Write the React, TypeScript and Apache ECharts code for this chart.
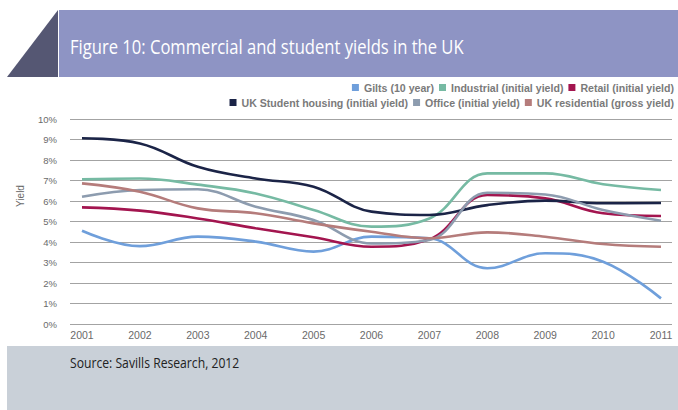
import React, { useEffect, useRef } from "react";
import * as echarts from "echarts";

const years = [2001, 2002, 2003, 2004, 2005, 2006, 2007, 2008, 2009, 2010, 2011];
const gilts = [4.55, 3.8, 4.26, 4.02, 3.53, 4.26, 4.18, 2.72, 3.45, 3.04, 1.25];
const industrial = [7.06, 7.1, 6.8, 6.37, 5.56, 4.75, 5.15, 7.35, 7.35, 6.82, 6.54];
const retail = [5.69, 5.53, 5.15, 4.67, 4.23, 3.77, 4.13, 6.29, 6.13, 5.4, 5.27];
const student = [9.06, 8.81, 7.67, 7.1, 6.7, 5.48, 5.32, 5.8, 6.02, 5.89, 5.9];
const office = [6.21, 6.54, 6.57, 5.72, 5.07, 3.93, 4.1, 6.4, 6.32, 5.56, 5.04];
const residential = [6.86, 6.45, 5.64, 5.4, 4.91, 4.5, 4.18, 4.47, 4.26, 3.9, 3.77];
const yTicks = [0, 1, 2, 3, 4, 5, 6, 7, 8, 9, 10];

const seriesDefs = [
  { name: "Gilts (10 year)", data: gilts, color: "#6f9fdb" },
  { name: "Industrial (initial yield)", data: industrial, color: "#76baa3" },
  { name: "Retail (initial yield)", data: retail, color: "#a3154f" },
  { name: "UK Student housing (initial yield)", data: student, color: "#1b2447" },
  { name: "Office (initial yield)", data: office, color: "#8d9caf" },
  { name: "UK residential (gross yield)", data: residential, color: "#b57c7b" },
];

export default function App() {
  const ref = useRef<HTMLDivElement>(null);
  useEffect(() => {
    if (!ref.current) return;
    const chart = echarts.init(ref.current, undefined, { renderer: "svg" });
    const legendText = {
      fontFamily: "Liberation Sans, Arial, sans-serif",
      fontWeight: "bold" as const,
      fontSize: 10.6,
      color: "#7a7a7a",
    };
    const legendBase = {
      right: 4,
      itemWidth: 7,
      itemHeight: 7,
      itemGap: 5,
      icon: "rect",
      textStyle: legendText,
      padding: 0,
    };
    chart.setOption({
      animation: false,
      backgroundColor: "#ffffff",
      grid: { left: 70, right: 6, top: 119, bottom: 86 },
      legend: [
        { ...legendBase, data: seriesDefs.slice(0, 3).map((s) => s.name), top: 82 },
        { ...legendBase, data: seriesDefs.slice(3).map((s) => s.name), top: 97 },
      ],
      xAxis: {
        type: "value",
        min: 2001 - 12 / 57.9,
        max: 2011 + 11 / 57.9,
        axisLine: { show: false },
        axisTick: { show: false },
        splitLine: { show: false },
        axisLabel: {
          customValues: years,
          formatter: (v: number) => String(Math.round(v)),
          fontFamily: "Liberation Sans Narrow, Liberation Sans, Arial, sans-serif",
          fontSize: 10.5,
          color: "#6a6a6a",
          margin: 5,
        },
      },
      yAxis: {
        type: "value",
        min: yTicks[0],
        max: yTicks[yTicks.length - 1],
        interval: 1,
        axisLine: { show: false },
        axisTick: { show: false },
        splitLine: { lineStyle: { color: "#a3a3a3", width: 1.2 } },
        axisLabel: {
          formatter: "{value}%",
          fontFamily: "Liberation Sans, Arial, sans-serif",
          fontSize: 9.5,
          color: "#6a6a6a",
          margin: 13,
        },
      },
      series: seriesDefs.map((s) => ({
        name: s.name,
        type: "line",
        smooth: 0.4,
        showSymbol: false,
        symbol: "none",
        color: s.color,
        lineStyle: { width: 2.6, color: s.color },
        data: years.map((y, i) => [y, s.data[i]]),
      })),
      graphic: [
        {
          type: "polygon",
          shape: { points: [[7, 77], [58, 10], [58, 77]] },
          style: { fill: "#555773" },
        },
        {
          type: "rect",
          shape: { x: 59, y: 10, width: 619, height: 67 },
          style: { fill: "#8e94c4" },
        },
        {
          type: "text",
          x: 70,
          y: 46,
          scaleX: 0.83,
          style: {
            text: "Figure 10: Commercial and student yields in the UK",
            fill: "#ffffff",
            font: "20px 'Open Sans', 'Noto Sans', sans-serif",
            verticalAlign: "middle",
          },
        },
        {
          type: "text",
          x: 20,
          y: 196,
          rotation: Math.PI / 2,
          style: {
            text: "Yield",
            fill: "#6a6a6a",
            font: "10px 'Liberation Sans', Arial, sans-serif",
            align: "center",
            verticalAlign: "middle",
          },
        },
        {
          type: "rect",
          shape: { x: 7, y: 346, width: 671, height: 64 },
          style: { fill: "#c9d0d8" },
        },
        {
          type: "text",
          x: 70,
          y: 363,
          scaleX: 0.87,
          style: {
            text: "Source: Savills Research, 2012",
            fill: "#222222",
            font: "14px 'Open Sans', 'Noto Sans', sans-serif",
            verticalAlign: "middle",
          },
        },
      ],
    });
    return () => chart.dispose();
  }, []);
  return (
    <div
      ref={ref}
      style={{ position: "fixed", left: 0, top: 0, width: 678, height: 410 }}
    />
  );
}
